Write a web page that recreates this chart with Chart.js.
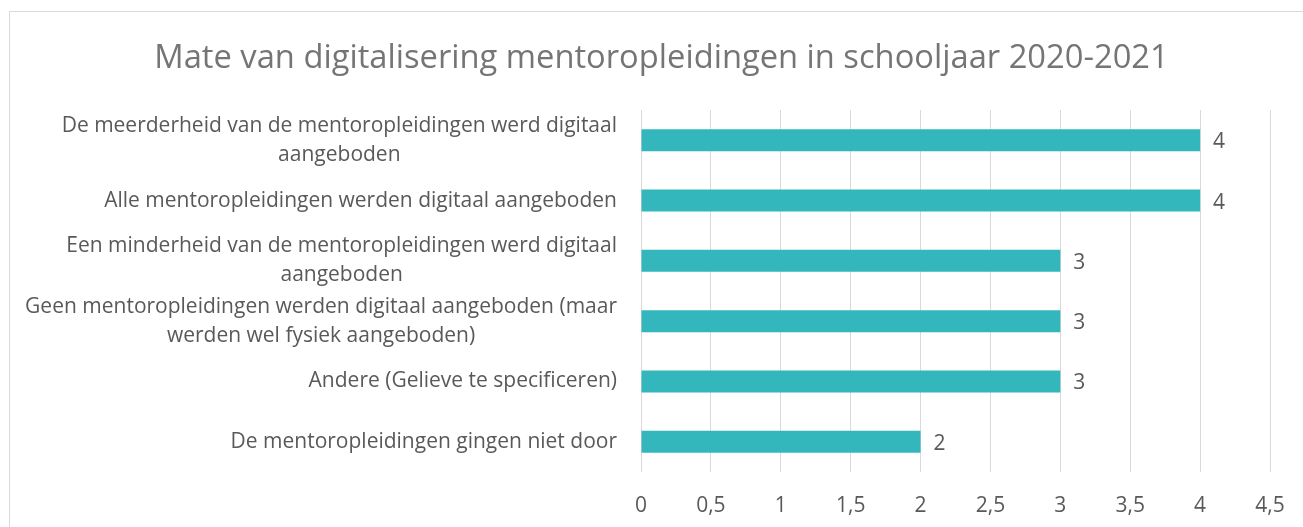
<!DOCTYPE html>
<html>
<head>
<meta charset="utf-8">
<script src="https://cdn.jsdelivr.net/npm/chart.js@4.4.1/dist/chart.umd.min.js"></script>
<style>
  html, body { margin: 0; padding: 0; background: #fff; }
  #wrap { position: relative; width: 1303px; height: 527px; overflow: hidden; }
  #frame { position: absolute; left: 9px; top: 11px; width: 1400px; height: 600px; border: 1px solid #d9d9d9; }
  canvas { position: absolute; left: 0; top: 0; }
</style>
</head>
<body>
<div id="wrap">
  <div id="frame"></div>
  <canvas id="chart" width="1303" height="527"></canvas>
</div>
<script>
const categories = [
    ["De meerderheid van de mentoropleidingen werd digitaal", "aangeboden"],
    ["Alle mentoropleidingen werden digitaal aangeboden"],
    ["Een minderheid van de mentoropleidingen werd digitaal", "aangeboden"],
    ["Geen mentoropleidingen werden digitaal aangeboden (maar", "werden wel fysiek aangeboden)"],
    ["Andere (Gelieve te specificeren)"],
    ["De mentoropleidingen gingen niet door"],
];
const counts = [4, 4, 3, 3, 3, 2];
const xTickLabels = ["0", "0,5", "1", "1,5", "2", "2,5", "3", "3,5", "4", "4,5"];

const FONT = "Open Sans";
const textGray = "#595959";
const LABEL_RIGHT = 617;
const LABEL_SIZE = 21;

// y labels: block right-aligned, lines centred inside the block (like Excel)
const categoryLabels = {
    id: "categoryLabels",
    afterDraw(chart) {
        const ctx = chart.ctx;
        const yScale = chart.scales.y;
        ctx.save();
        ctx.font = LABEL_SIZE + "px '" + FONT + "'";
        ctx.fillStyle = textGray;
        ctx.textAlign = "center";
        ctx.textBaseline = "middle";
        const lh = 29;
        categories.forEach((lines, i) => {
            const y = yScale.getPixelForTick(i);
            const w = Math.max(...lines.map(l => ctx.measureText(l).width));
            const cx = LABEL_RIGHT - w / 2;
            const top = y - (lines.length - 1) * lh / 2;
            lines.forEach((l, j) => ctx.fillText(l, cx, top + j * lh));
        });
        ctx.restore();
    }
};

const valueLabels = {
    id: "valueLabels",
    afterDatasetsDraw(chart) {
        const ctx = chart.ctx;
        const meta = chart.getDatasetMeta(0);
        ctx.save();
        ctx.font = LABEL_SIZE + "px '" + FONT + "'";
        ctx.fillStyle = textGray;
        ctx.textAlign = "left";
        ctx.textBaseline = "middle";
        meta.data.forEach((bar, i) => {
            ctx.fillText(String(counts[i]), bar.x + 13, bar.y + 2);
        });
        ctx.restore();
    }
};

new Chart(document.getElementById("chart"), {
    type: "bar",
    data: {
        labels: categories.map(c => c.join(" ")),
        datasets: [
            {
                data: counts,
                backgroundColor: "#33B7BC",
                barPercentage: 0.73,
                categoryPercentage: 0.5,
            },
        ],
    },
    options: {
        indexAxis: "y",
        responsive: false,
        animation: false,
        layout: { padding: { top: 39, right: 33, bottom: 9, left: 53 } },
        plugins: {
            legend: { display: false },
            tooltip: { enabled: false },
            title: {
                display: true,
                text: "Mate van digitalisering mentoropleidingen in schooljaar 2020-2021",
                color: "#757575",
                font: { family: FONT, size: 32.7, weight: "normal" },
                padding: { top: 0, bottom: 31.8 },
            },
        },
        scales: {
            x: {
                min: 0,
                max: 4.5,
                ticks: {
                    stepSize: 0.5,
                    color: textGray,
                    font: { family: FONT, size: LABEL_SIZE },
                    padding: 21,
                    callback: (v, i) => xTickLabels[i],
                },
                grid: { color: "#d9d9d9", drawTicks: false },
                border: { display: false },
                afterFit(scale) {
                    scale.height = 46;
                    scale.paddingLeft = 0;
                    scale.paddingRight = 0;
                },
            },
            y: {
                ticks: { display: false },
                grid: { display: false },
                border: { display: false },
                afterFit(scale) { scale.width = 588; },
            },
        },
    },
    plugins: [categoryLabels, valueLabels],
});
</script>
</body>
</html>
